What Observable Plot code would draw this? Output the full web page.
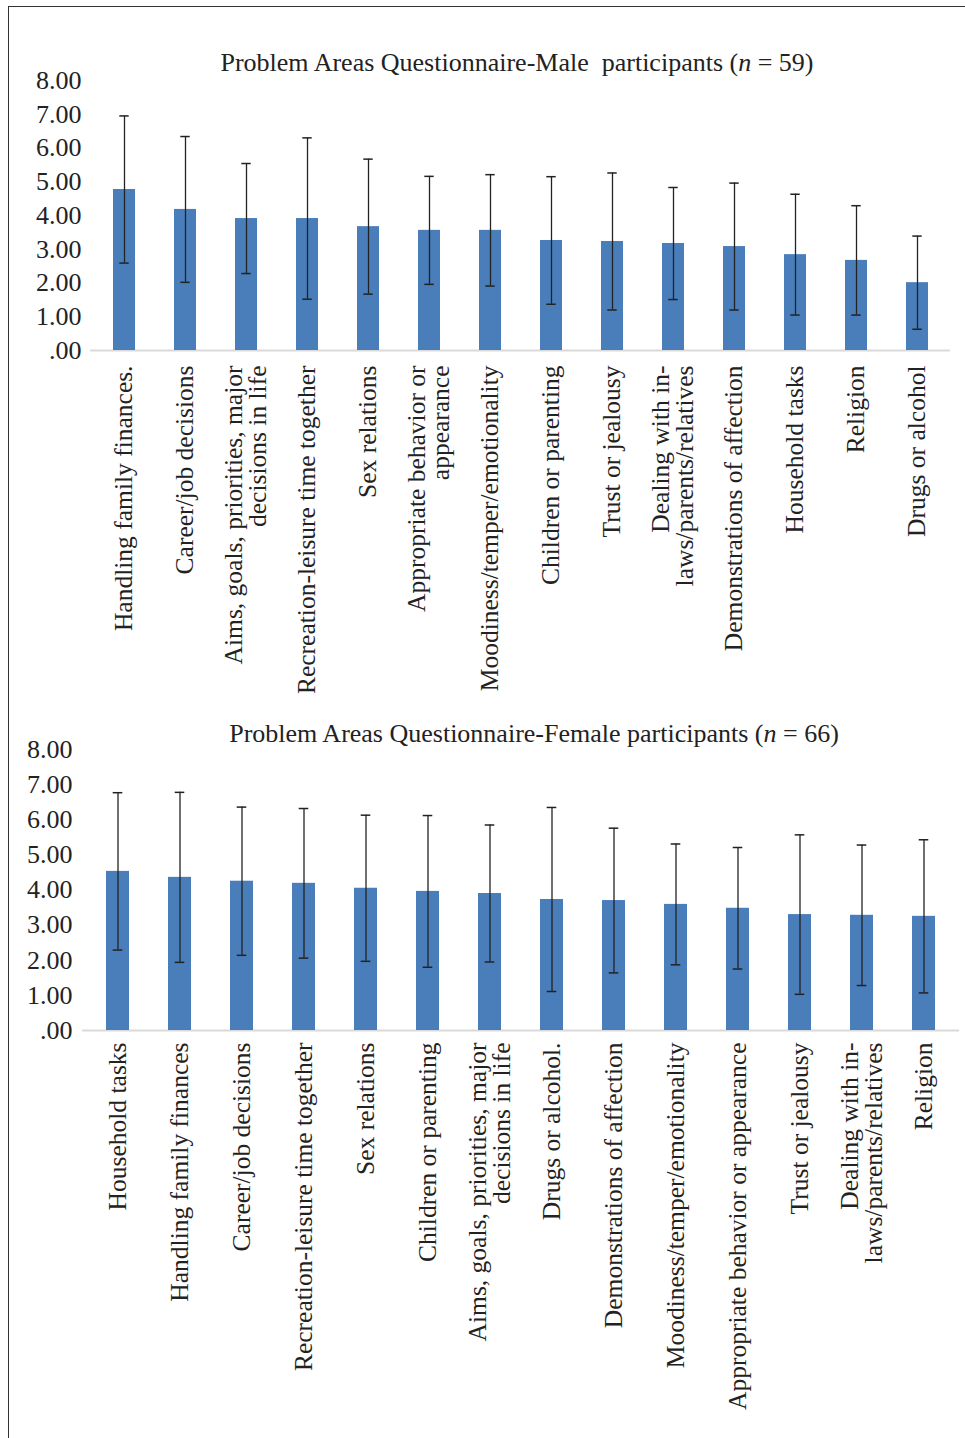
<!DOCTYPE html>
<html><head><meta charset="utf-8">
<script src="https://cdn.jsdelivr.net/npm/d3@7"></script>
<script src="https://cdn.jsdelivr.net/npm/@observablehq/plot@0.6"></script>
<style>
body{margin:0;background:#fff;}
#page{position:relative;width:965px;height:1438px;overflow:hidden;font-family:"Liberation Serif",serif;color:#222;background:#fff;}
#frame{position:absolute;left:8px;top:6px;right:-2px;bottom:-2px;border-top:1.3px solid #333;border-left:1.3px solid #333;}
.title{position:absolute;font-size:26px;line-height:26px;white-space:nowrap;transform:translateX(-50%);color:#222;}
#page svg{position:absolute;left:0;}
#page svg text{font-family:"Liberation Serif",serif;font-variant-numeric:normal;}
</style></head><body><div id="page"><div id="frame"></div></div>
<script>
// ---- data ----
const yTicks = [0, 1, 2, 3, 4, 5, 6, 7, 8];

const maleCategories = [
  "Handling family finances.",
  "Career/job decisions",
  "Aims, goals, priorities, major\ndecisions in life",
  "Recreation-leisure time together",
  "Sex relations",
  "Appropriate behavior or\nappearance",
  "Moodiness/temper/emotionality",
  "Children or parenting",
  "Trust or jealousy",
  "Dealing with in-\nlaws/parents/relatives",
  "Demonstrations of affection",
  "Household tasks",
  "Religion",
  "Drugs or alcohol"
];
const maleMeans = [4.77, 4.18, 3.91, 3.91, 3.67, 3.56, 3.56, 3.26, 3.23, 3.17, 3.08, 2.84, 2.67, 2.01];
const maleSDs   = [2.18, 2.16, 1.63, 2.39, 2.00, 1.60, 1.65, 1.89, 2.03, 1.66, 1.88, 1.79, 1.62, 1.38];

const femaleCategories = [
  "Household tasks",
  "Handling family finances",
  "Career/job decisions",
  "Recreation-leisure time together",
  "Sex relations",
  "Children or parenting",
  "Aims, goals, priorities, major\ndecisions in life",
  "Drugs or alcohol.",
  "Demonstrations of affection",
  "Moodiness/temper/emotionality",
  "Appropriate behavior or appearance",
  "Trust or jealousy",
  "Dealing with in-\nlaws/parents/relatives",
  "Religion"
];
const femaleMeans = [4.53, 4.36, 4.25, 4.19, 4.05, 3.96, 3.90, 3.73, 3.70, 3.59, 3.48, 3.30, 3.28, 3.25];
const femaleSDs   = [2.24, 2.42, 2.11, 2.13, 2.08, 2.16, 1.95, 2.62, 2.06, 1.72, 1.73, 2.27, 2.00, 2.18];

const maleTitle = "Problem Areas Questionnaire-Male&nbsp; participants (<i>n</i> = 59)";
const femaleTitle = "Problem Areas Questionnaire-Female participants (<i>n</i> = 66)";

// ---- drawing ----
const page = document.getElementById("page");
const serif = "'Liberation Serif', serif";

function chart(o) {
  const data = o.cats.map((c, i) => ({cat: c, mean: o.means[i], lo: o.means[i] - o.sds[i], hi: o.means[i] + o.sds[i]}));
  const svg = Plot.plot({
    width: 965, height: o.height,
    marginTop: o.mt, marginBottom: o.mb, marginLeft: o.ml, marginRight: o.mr,
    x: {domain: o.cats, paddingInner: o.pad, paddingOuter: o.pad / 2, axis: null},
    y: {domain: [0, 8], axis: null},
    style: {fontFamily: serif, fontSize: "26px", color: "#222", background: "transparent", overflow: "visible"},
    marks: [
      Plot.axisY({ticks: yTicks, tickFormat: d => d === 0 ? ".00" : d.toFixed(2), tickSize: 0, tickPadding: o.tp, label: null, fontFamily: serif, fontSize: 26, fill: "#222"}),
      Plot.ruleY([0], {stroke: "#d9d9d9", strokeWidth: 2}),
      Plot.barY(data, {x: "cat", y: "mean", fill: "#4a7ebb"}),
      Plot.ruleX(data, {x: "cat", y1: "lo", y2: "hi", stroke: "#222", strokeWidth: 1.3}),
      Plot.tickY(data, {x: "cat", y: "hi", stroke: "#222", strokeWidth: 1.5, inset: o.capInset}),
      Plot.tickY(data, {x: "cat", y: "lo", stroke: "#222", strokeWidth: 1.5, inset: o.capInset}),
      Plot.text(o.cats, {x: d => d, frameAnchor: "bottom", dy: o.labelPad, rotate: -90, textAnchor: "end", lineAnchor: "middle", fontSize: 25.5, lineHeight: 0.95, fontFamily: serif, fill: "#222"})
    ]
  });
  svg.style.top = o.top + "px";
  page.appendChild(svg);
  const t = document.createElement("div");
  t.className = "title";
  t.innerHTML = o.title;
  t.style.left = o.titleX + "px";
  t.style.top = o.titleY + "px";
  page.appendChild(t);
}

chart({cats: maleCategories, means: maleMeans, sds: maleSDs, title: maleTitle,
  top: 0, height: 710, mt: 80, mb: 360, ml: 90, mr: 15, pad: 0.64, tp: 9,
  capInset: 6.3, labelPad: 15, titleX: 517, titleY: 50});

chart({cats: femaleCategories, means: femaleMeans, sds: femaleSDs, title: femaleTitle,
  top: 710, height: 728, mt: 39, mb: 408, ml: 82, mr: 6, pad: 0.63, tp: 10,
  capInset: 6.7, labelPad: 12, titleX: 534, titleY: 721});
</script>
</body></html>
